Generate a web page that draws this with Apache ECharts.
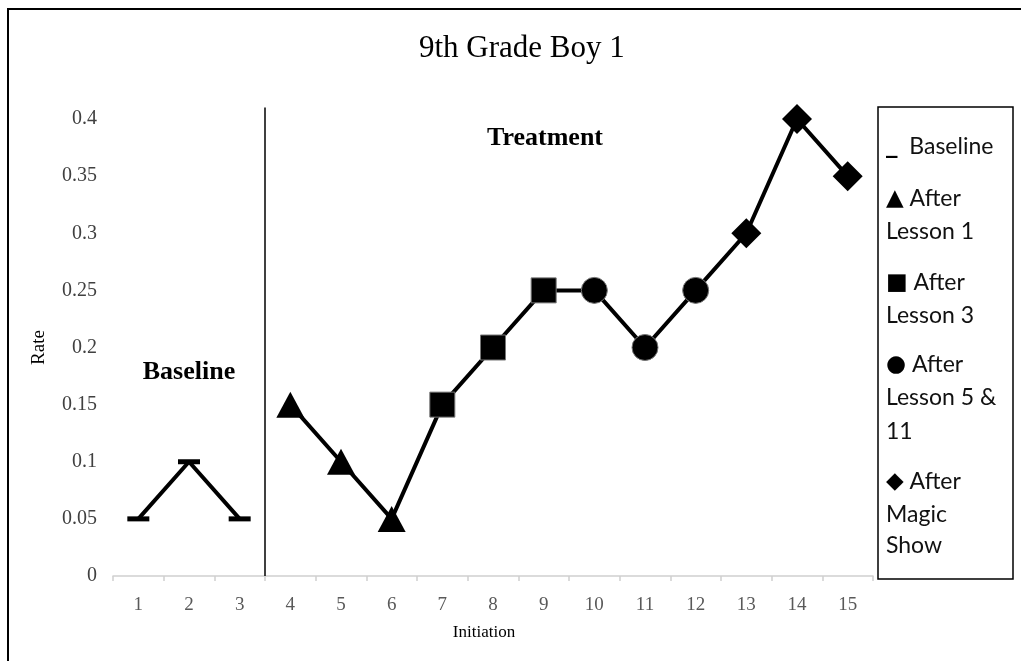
<!DOCTYPE html>
<html>
<head>
<meta charset="utf-8">
<script src="https://cdn.jsdelivr.net/npm/echarts@6/dist/echarts.min.js"></script>
<style>
  html, body { margin: 0; padding: 0; background: #fff; }
  #chart { width: 1021px; height: 661px; }
</style>
</head>
<body>
<div id="chart"></div>
<script>
// Sessions on the x axis
const sessions = ['1','2','3','4','5','6','7','8','9','10','11','12','13','14','15'];
// Rate per session, grouped by phase
const baselineRates = [0.05, 0.1, 0.05];        // sessions 1-3
const afterLesson1 = [0.15, 0.1, 0.05];         // sessions 4-6
const afterLesson3 = [0.15, 0.2, 0.25];         // sessions 7-9
const afterLesson5and11 = [0.25, 0.2, 0.25];    // sessions 10-12
const afterMagicShow = [0.3, 0.4, 0.35];        // sessions 13-15
// Phase change sits between session 3 and session 4
const phaseChange = 3.5;
const yTicks = { min: 0, max: 0.4, interval: 0.05 };

const serif = '"Liberation Serif", "Times New Roman", serif';
const sans = 'Lato, "Open Sans", sans-serif';
const glyphs = '"DejaVu Sans", sans-serif';

// Treatment phases drawn as one connected line with a symbol per phase
const phases = [
  { values: afterLesson1, symbol: 'triangle', size: [28, 26], border: 0 },
  { values: afterLesson3, symbol: 'rect', size: 25, border: 1 },
  { values: afterLesson5and11, symbol: 'circle', size: 26, border: 1 },
  { values: afterMagicShow, symbol: 'diamond', size: 30, border: 0 }
];
const treatmentData = baselineRates.map(() => null);
phases.forEach(p => p.values.forEach(v => treatmentData.push({
  value: v, symbol: p.symbol, symbolSize: p.size,
  itemStyle: { color: '#000', borderColor: '#777', borderWidth: p.border }
})));

const chart = echarts.init(document.getElementById('chart'));

// Legend box contents: optional marker glyph followed by the wrapped label
const legendLines = [
  { m: '_', t: '  Baseline', y: 147 },
  { m: '\u25B2', t: ' After', y: 199 },
  { m: '', t: 'Lesson 1', y: 232 },
  { m: '\u25A0', t: ' After', y: 283 },
  { m: '', t: 'Lesson 3', y: 316 },
  { m: '\u25CF', t: ' After', y: 365 },
  { m: '', t: 'Lesson 5 &', y: 398 },
  { m: '', t: '11', y: 432 },
  { m: '\u25C6', t: ' After', y: 482 },
  { m: '', t: 'Magic', y: 515 },
  { m: '', t: 'Show', y: 546 }
];

chart.setOption({
  backgroundColor: '#fff',
  animation: false,
  title: {
    text: '9th Grade Boy 1',
    left: 414,
    top: 28,
    textStyle: { fontFamily: serif, fontSize: 31, fontWeight: 'normal', color: '#000' }
  },
  grid: { left: 113, right: 148, top: 119, bottom: 85 },
  xAxis: [{
    type: 'category',
    data: sessions,
    boundaryGap: true,
    name: 'Initiation',
    nameLocation: 'middle',
    nameGap: 48,
    nameTextStyle: { fontFamily: serif, fontSize: 17, color: '#000', padding: [0, 18, 0, 0] },
    axisLine: { lineStyle: { color: '#d0d0d0', width: 1.5 } },
    axisTick: { show: true, length: 5, lineStyle: { color: '#d0d0d0', width: 1.5 } },
    axisLabel: { fontFamily: serif, fontSize: 19, color: '#595959', margin: 20 }
  }, {
    type: 'value', min: 0.5, max: 15.5, show: false
  }],
  yAxis: {
    type: 'value',
    min: yTicks.min, max: yTicks.max, interval: yTicks.interval,
    name: 'Rate',
    nameLocation: 'middle',
    nameGap: 64,
    nameTextStyle: { fontFamily: serif, fontSize: 19, color: '#000' },
    axisLine: { show: false },
    axisTick: { show: false },
    splitLine: { show: false },
    axisLabel: { fontFamily: serif, fontSize: 20, color: '#404040', margin: 16 }
  },
  series: [{
    name: 'Phase change',
    type: 'line',
    xAxisIndex: 1,
    data: [[phaseChange, 0], [phaseChange, 0.41]],
    symbol: 'none',
    clip: false,
    silent: true,
    lineStyle: { color: '#000', width: 1.5 }
  }, {
    name: 'Baseline',
    type: 'line',
    data: baselineRates,
    symbol: 'rect',
    symbolSize: [22, 5],
    clip: false,
    lineStyle: { color: '#000', width: 4 },
    itemStyle: { color: '#000' }
  }, {
    name: 'Treatment',
    type: 'line',
    data: treatmentData,
    connectNulls: false,
    clip: false,
    z: 3,
    lineStyle: { color: '#000', width: 4 },
    itemStyle: { color: '#000' }
  }],
  graphic: [
    // frame round the whole figure
    { type: 'rect', shape: { x: 8, y: 9, width: 1100, height: 1000 },
      style: { fill: 'none', stroke: '#000', lineWidth: 2 }, silent: true },
    { type: 'text', x: 189, y: 372,
      style: { text: 'Baseline', font: 'bold 26px ' + serif, fill: '#000', align: 'center', verticalAlign: 'middle' } },
    { type: 'text', x: 545, y: 138,
      style: { text: 'Treatment', font: 'bold 26px ' + serif, fill: '#000', align: 'center', verticalAlign: 'middle' } },
    { type: 'rect', shape: { x: 878, y: 107, width: 135, height: 472 },
      style: { fill: '#fff', stroke: '#000', lineWidth: 1.5 } }
  ].concat(legendLines.map(l => ({
    type: 'text', x: 886, y: l.y,
    style: {
      text: (l.m ? '{m|' + l.m + '}' : '') + '{t|' + l.t + '}',
      align: 'left', verticalAlign: 'middle',
      rich: {
        m: { font: 'bold 23px ' + glyphs, fill: '#000' },
        t: { font: '23px ' + sans, fill: '#111' }
      }
    }
  })))
});
</script>
</body>
</html>
